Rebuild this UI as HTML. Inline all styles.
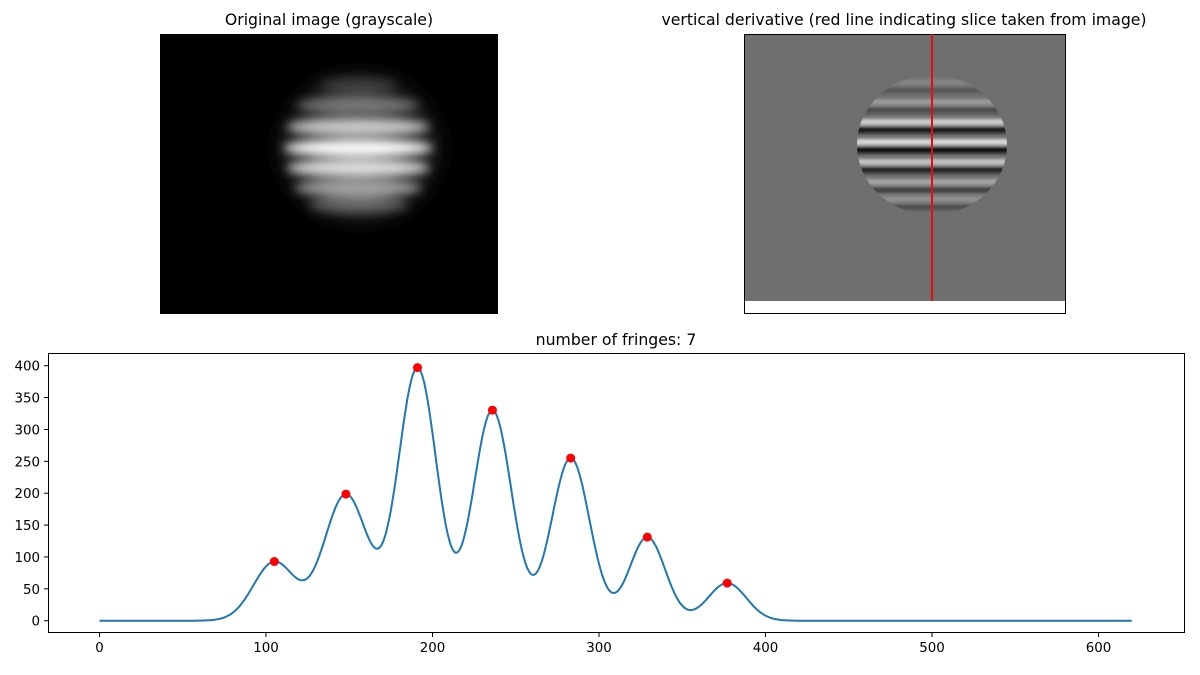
<!DOCTYPE html>
<html><head><meta charset="utf-8"><style>
body{margin:0;background:#fff;font-family:"Liberation Sans","DejaVu Sans",sans-serif}
</style></head><body>
<svg id="s" width="1200" height="670" xmlns="http://www.w3.org/2000/svg" font-family="DejaVu Sans, Liberation Sans, sans-serif">
<defs>
<filter id="b1" x="-30%" y="-30%" width="160%" height="160%"><feGaussianBlur stdDeviation="5"/></filter>
<filter id="b0" x="-50%" y="-50%" width="200%" height="200%"><feGaussianBlur stdDeviation="14"/></filter>
<filter id="b2"><feGaussianBlur stdDeviation="1.5"/></filter>
<clipPath id="cl"><ellipse cx="932" cy="145" rx="75" ry="70"/></clipPath>
<clipPath id="cL"><rect x="160" y="34" width="338" height="280"/></clipPath>
</defs>
<text x="329" y="25" font-size="15.7" text-anchor="middle">Original image (grayscale)</text>
<rect x="160" y="34" width="338" height="280" fill="#000"/>
<g clip-path="url(#cL)">
<ellipse cx="360" cy="148" rx="72" ry="66" fill="#333" filter="url(#b0)"/>
<g id="leftblob"></g>
</g>
<text x="904" y="25" font-size="15.7" text-anchor="middle">vertical derivative (red line indicating slice taken from image)</text>
<rect x="744" y="34" width="322" height="267" fill="#6f6f6f"/>
<g clip-path="url(#cl)" id="rightblob"></g>
<rect x="744.5" y="34.5" width="321" height="279" fill="none" stroke="#000" stroke-width="1"/>
<line x1="932" y1="34" x2="932" y2="301" stroke="#e01010" stroke-width="2"/>
<text x="616" y="345" font-size="15.7" text-anchor="middle">number of fringes: 7</text>
<rect x="48.5" y="353.5" width="1136" height="279" fill="none" stroke="#000" stroke-width="1"/>
<g id="ticks" font-size="13.4" fill="#000"></g>
<path id="curve" fill="none" stroke="#1f77b4" stroke-width="2"/>
<g id="pts" fill="#ff0000"></g>
</svg>
<script>
var NS="http://www.w3.org/2000/svg";
function el(t,a,p){var e=document.createElementNS(NS,t);for(var k in a)e.setAttribute(k,a[k]);document.getElementById(p).appendChild(e);return e;}
function X(v){return 99.5+v*1.665;}function Y(v){return 620.7-v*0.6375;}
for(var v=0;v<=600;v+=100){el('line',{x1:X(v),x2:X(v),y1:633,y2:637,stroke:'#000'},'ticks');var t=el('text',{x:X(v),y:652,'text-anchor':'middle'},'ticks');t.textContent=v;}
for(var v=0;v<=400;v+=50){el('line',{x1:44,x2:48,y1:Y(v),y2:Y(v),stroke:'#000'},'ticks');var t=el('text',{x:40,y:Y(v)+5,'text-anchor':'end'},'ticks');t.textContent=v;}
var P=[[105,92,12.5],[148,198,13],[191,396,11.5],[236,330,11.5],[283,255,11.5],[329,131,10.8],[377,59,11.5]];
var pk=[105,148,191,236,283,329,377];
function f(x){var s=0;P.forEach(function(p){s+=p[1]*Math.exp(-(x-p[0])*(x-p[0])/(2*p[2]*p[2]));});return s;}
var d='';for(var x=0;x<=620;x+=1){d+=(x?'L':'M')+X(x).toFixed(1)+','+Y(f(x)).toFixed(1);}
document.getElementById('curve').setAttribute('d',d);
pk.forEach(function(p){el('circle',{cx:X(p),cy:Y(f(p)),r:4.5},'pts');});
var g=el('g',{filter:'url(#b1)'},'leftblob');
var bands=[[85,0.15,40],[105,0.35,62],[127,0.75,72],[148,1,75],[168,0.85,72],[188,0.55,64],[205,0.3,50]];
bands.forEach(function(b){var e=el('ellipse',{cx:358,cy:b[0],rx:b[2],ry:8.5,fill:'#fff','fill-opacity':b[1]},'leftblob');g.appendChild(e);});
var rb=el('g',{filter:'url(#b2)'},'rightblob');
var rows=[[88,0.2],[108,0.4],[128,0.9],[148,1],[168,0.8],[188,0.5],[205,0.3]];
rows.forEach(function(r){
 rb.appendChild(el('rect',{x:850,y:r[0]-9,width:170,height:6,fill:'#dcdcdc','fill-opacity':r[1]},'rightblob'));
 rb.appendChild(el('rect',{x:850,y:r[0]-1,width:170,height:6,fill:'#111','fill-opacity':r[1]},'rightblob'));
});
</script>
</body></html>
